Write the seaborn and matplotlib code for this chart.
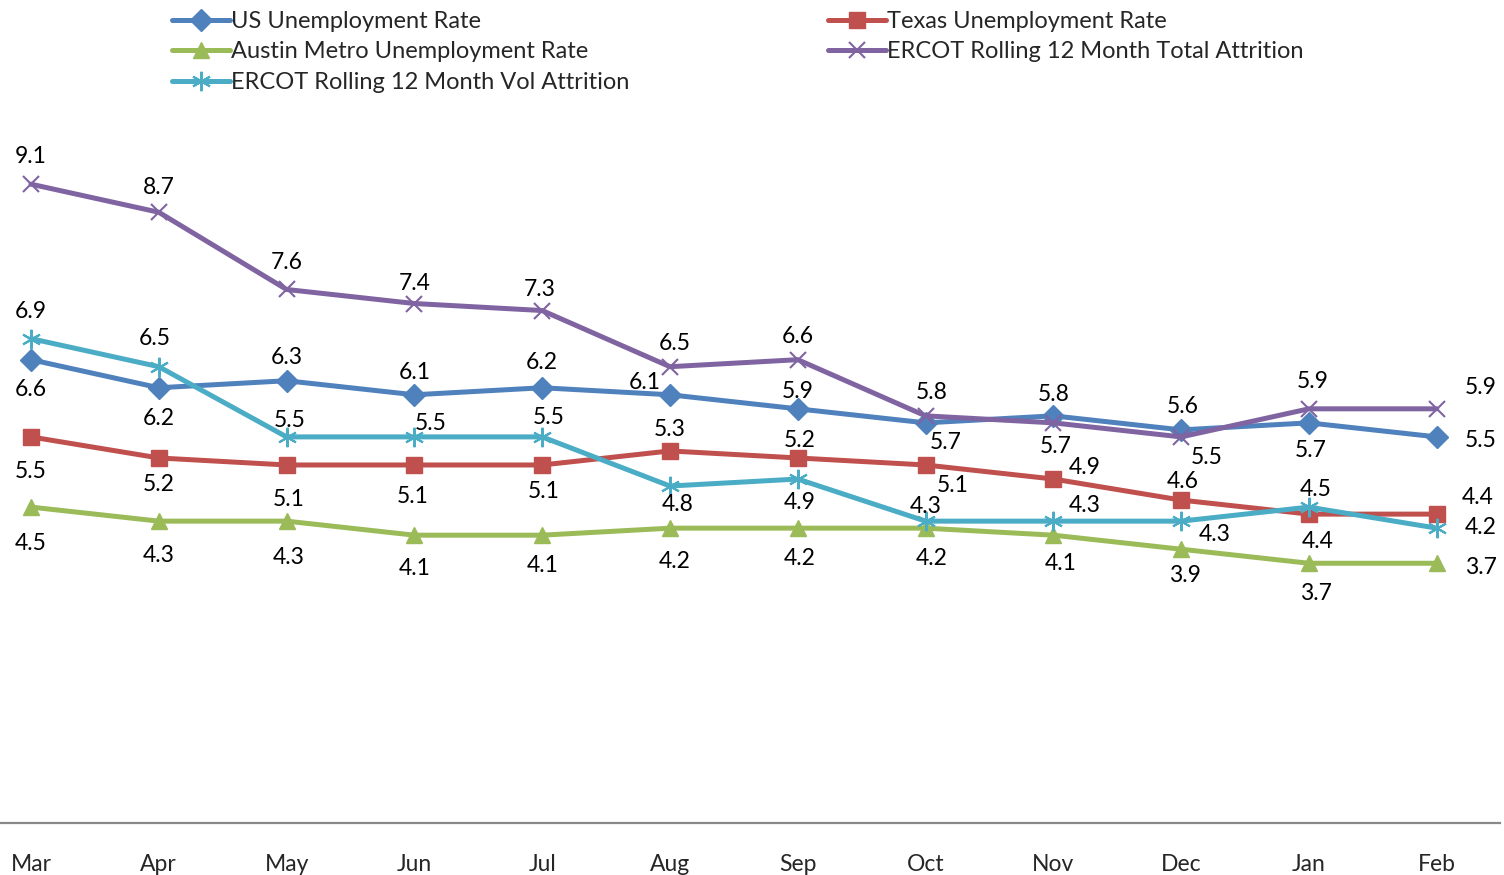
import matplotlib
matplotlib.use("Agg")
import matplotlib.pyplot as plt
import seaborn as sns
import numpy as np

months = ["Mar", "Apr", "May", "Jun", "Jul", "Aug", "Sep", "Oct", "Nov", "Dec", "Jan", "Feb"]

us_rate = [6.6, 6.2, 6.3, 6.1, 6.2, 6.1, 5.9, 5.7, 5.8, 5.6, 5.7, 5.5]
texas_rate = [5.5, 5.2, 5.1, 5.1, 5.1, 5.3, 5.2, 5.1, 4.9, 4.6, 4.4, 4.4]
austin_rate = [4.5, 4.3, 4.3, 4.1, 4.1, 4.2, 4.2, 4.2, 4.1, 3.9, 3.7, 3.7]
total_attrition = [9.1, 8.7, 7.6, 7.4, 7.3, 6.5, 6.6, 5.8, 5.7, 5.5, 5.9, 5.9]
vol_attrition = [6.9, 6.5, 5.5, 5.5, 5.5, 4.8, 4.9, 4.3, 4.3, 4.3, 4.5, 4.2]

series_names = ["US Unemployment Rate", "Texas Unemployment Rate",
                "Austin Metro Unemployment Rate", "ERCOT Rolling 12 Month Total Attrition",
                "ERCOT Rolling 12 Month Vol Attrition"]

# label offsets in pixels (dx, dy) with dy positive upward
us_off = [(0, -30), (0, -31), (0, 23), (0, 22), (0, 25), (-25, 12),
          (0, 17), (20, -20), (0, 21), (2, 23), (2, -28), (44, -4)]
texas_off = [(0, -35), (0, -27), (2, -35), (-2, -32), (2, -27), (0, 21),
             (2, 17), (27, -21), (31, 12), (2, 19), (9, -27), (41, 17)]
austin_off = [(0, -36), (0, -34), (2, -36), (0, -33), (0, -30), (5, -33),
              (2, -30), (6, -30), (7, -28), (4, -26), (7, -30), (44, -4)]
total_off = [(0, 28), (0, 25), (0, 27), (0, 20), (-2, 21), (5, 23),
             (0, 23), (6, 23), (2, -24), (26, -21), (4, 27), (44, 21)]
vol_off = [(0, 27), (-4, 28), (3, 16), (16, 13), (7, 19), (8, -18),
           (2, -23), (0, 15), (31, 16), (34, -13), (7, 18), (44, 1)]

colors = ["#4F81BD", "#C0504D", "#9BBB59", "#8064A2", "#4BACC6"]

sns.set_style("white")
plt.rcParams["font.family"] = ["Lato", "DejaVu Sans"]

fig = plt.figure(figsize=(15.04, 8.75), dpi=100)
ax = fig.add_axes([0, 52 / 875, 1500 / 1504, 702 / 875])

x = np.arange(len(months))
all_values = [us_rate, texas_rate, austin_rate, total_attrition, vol_attrition]
all_offsets = [us_off, texas_off, austin_off, total_off, vol_off]
markers = ["D", "s", "^", "x", (6, 2, 0)]
msizes = [11, 12, 12, 12, 14]
mews = [1, 1, 1, 1.5, 1.5]

handles = []
for vals, name, col, mk, ms, mew in zip(all_values, series_names, colors, markers, msizes, mews):
    sns.lineplot(x=x, y=vals, ax=ax, color=col, linewidth=3.6, marker=mk,
                 markersize=ms, markeredgewidth=mew, markeredgecolor=col,
                 markerfacecolor=col, label=name, legend=False)
    handles.append(ax.lines[-1])

for vals, offs in zip(all_values, all_offsets):
    for xi, v, (dx, dy) in zip(x, vals, offs):
        ax.annotate(f"{v:.1f}", (xi, v), xytext=(dx * 0.72, dy * 0.72),
                    textcoords="offset points", ha="center", va="center",
                    fontsize=16.5, color="black")

ax.set_xlim(-0.2426, 11.495)
ax.set_ylim(0, 10)
ax.set_xticks(x)
ax.set_xticklabels(months, fontsize=16.5)
ax.set_yticks([])
ax.tick_params(axis="x", length=0, pad=22)
for side in ["top", "right", "left"]:
    ax.spines[side].set_visible(False)
ax.spines["bottom"].set_color("#888888")
ax.spines["bottom"].set_linewidth(1.6)

order = [0, 2, 4, 1, 3]
fig.legend([handles[i] for i in order], [series_names[i] for i in order],
           ncol=2, loc="upper left", bbox_to_anchor=(172 / 1504, 1 - 11 / 875),
           frameon=False, fontsize=17, handlelength=2.45, handletextpad=0.05,
           columnspacing=8.42, labelspacing=0.40, borderaxespad=0.0,
           borderpad=0.0)

fig.savefig("out.png", dpi=100)
